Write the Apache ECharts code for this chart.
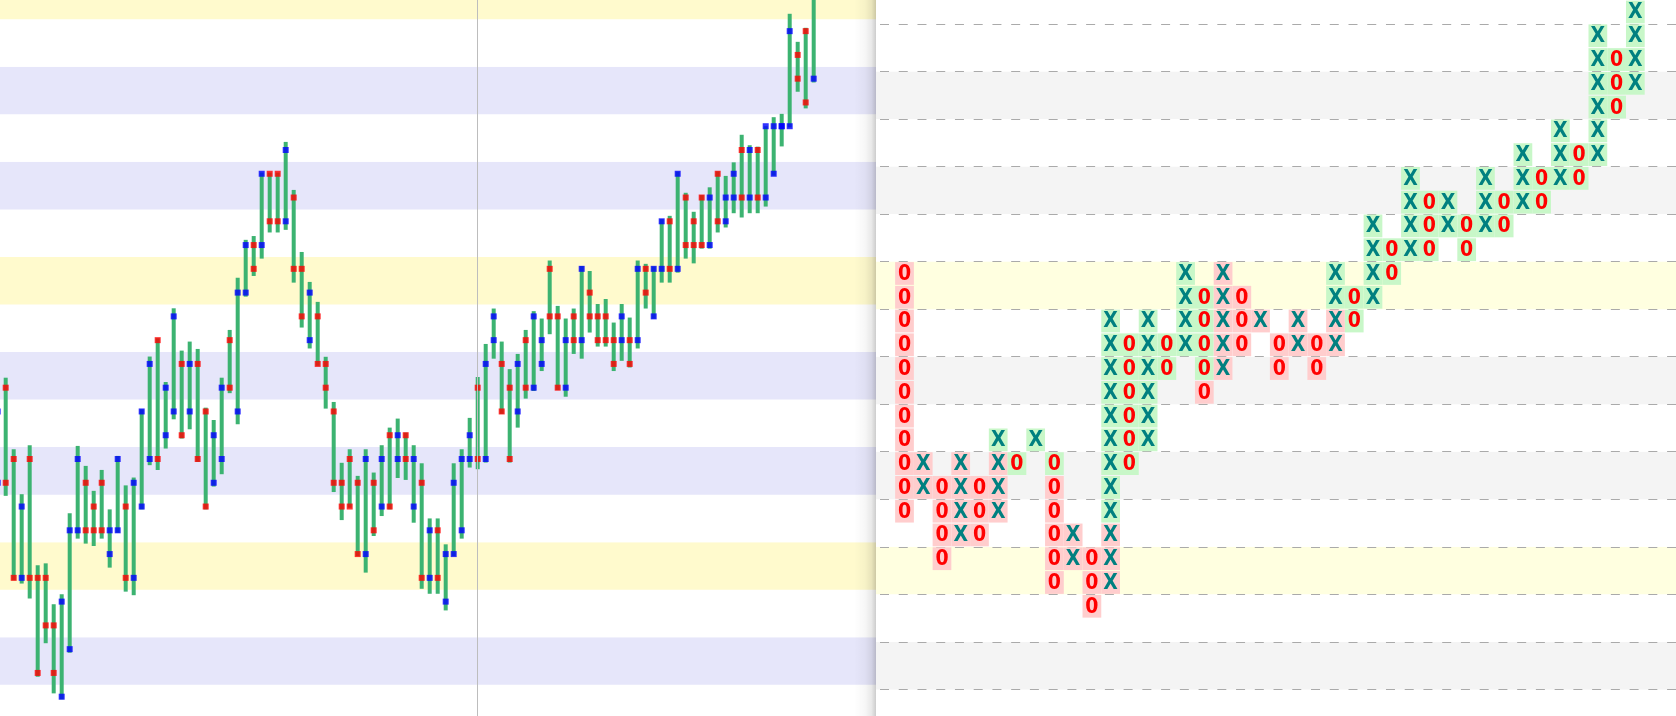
<!DOCTYPE html>
<html>
<head>
<meta charset="utf-8">
<script src="https://cdn.jsdelivr.net/npm/echarts@6/dist/echarts.min.js"></script>
<style>
html,body{margin:0;padding:0;background:#fff;}
#chart{width:1676px;height:716px;}
</style>
</head>
<body>
<div id="chart"></div>
<script>
// ---------- Left panel: price bars (values in box units) ----------
const highs = [
  13.3, 14.42, 11.41, 9.52, 11.58, 6.53, 6.61, 4.89, 5.31, 8.72,
  11.55, 10.71, 9.66, 10.54, 8.88, 11.13, 9.89, 10.22, 13.09, 15.31,
  16.08, 14.24, 17.34, 15.56, 15.94, 15.63, 13.16, 12.64, 14.42, 16.43,
  18.62, 20.22, 20.38, 23.05, 23.05, 23.05, 24.34, 22.32, 19.71, 18.45,
  17.61, 15.3, 13.4, 10.84, 11.41, 10.29, 11.41, 10.43, 11.58, 12.32,
  12.7, 12.11, 11.58, 10.82, 8.5, 8.5, 7.41, 10.82, 11.41, 12.73,
  14.45, 15.84, 17.33, 15.94, 14.78, 15.42, 16.43, 17.22, 16.91, 19.35,
  17.44, 16.91, 17.33, 19.12, 18.91, 17.52, 17.73, 16.74, 17.52, 16.95,
  19.35, 19.21, 19.1, 21.09, 21.23, 23.09, 22.2, 21.4, 22.1, 22.43,
  23.1, 22.91, 23.48, 24.64, 24.2, 24.14, 25.0, 25.38, 25.52, 29.73,
  28.55, 29.14, 31.5
];
const lows = [
  9.7, 9.45, 5.9, 5.76, 5.13, 1.84, 3.25, 1.14, 0.89, 2.85,
  7.65, 7.44, 7.34, 7.65, 6.43, 7.9, 5.42, 5.27, 8.88, 10.74,
  10.54, 11.44, 12.67, 11.86, 12.25, 10.88, 8.88, 9.84, 10.36, 13.77,
  12.46, 17.83, 18.7, 19.43, 20.53, 20.53, 20.64, 18.42, 16.53, 15.65,
  14.92, 13.12, 9.61, 8.43, 8.95, 6.92, 6.22, 7.76, 8.6, 8.88,
  10.2, 10.12, 8.32, 5.54, 5.33, 5.33, 4.63, 6.92, 7.65, 10.64,
  10.57, 10.85, 15.22, 12.9, 10.85, 12.32, 13.54, 13.86, 14.7, 16.25,
  13.9, 13.62, 15.42, 15.22, 16.32, 15.73, 15.73, 14.7, 15.13, 14.85,
  15.65, 17.33, 16.9, 18.42, 18.42, 18.84, 19.43, 19.23, 19.85, 19.85,
  20.53, 20.74, 21.34, 21.16, 21.34, 21.34, 21.62, 22.92, 24.15, 24.95,
  26.45, 25.75, 26.84
];
const boxTop = [
  13, 14, 11, 9, 11, 6, 6, 4, 5, 8,
  11, 10, 9, 10, 8, 11, 9, 10, 13, 15,
  16, 14, 17, 15, 15, 15, 13, 12, 14, 16,
  18, 20, 20, 23, 23, 23, 24, 22, 19, 18,
  17, 15, 13, 10, 11, 10, 11, 10, 11, 12,
  12, 12, 11, 10, 8, 8, 7, 10, 11, 12,
  14, 15, 17, 15, 14, 15, 16, 17, 16, 19,
  17, 16, 17, 19, 18, 17, 17, 16, 17, 16,
  19, 19, 19, 21, 21, 23, 22, 21, 22, 22,
  23, 22, 23, 24, 24, 24, 25, 25, 25, 29,
  28, 29, 31
];
const boxBottom = [
  10, 10, 6, 6, 6, 2, 4, 2, 1, 3,
  8, 8, 8, 8, 7, 8, 6, 6, 9, 11,
  11, 12, 13, 12, 13, 11, 9, 10, 11, 14,
  13, 18, 19, 20, 21, 21, 21, 19, 17, 16,
  15, 14, 10, 9, 9, 7, 7, 8, 9, 9,
  11, 11, 9, 6, 6, 6, 5, 7, 8, 11,
  11, 11, 16, 13, 11, 13, 14, 14, 15, 17,
  14, 14, 16, 16, 17, 16, 16, 15, 16, 15,
  16, 18, 17, 19, 19, 19, 20, 20, 20, 20,
  21, 21, 22, 22, 22, 22, 22, 23, 25, 25,
  27, 26, 27
];
// 'b' = rising box marker, 'r' = falling box marker
const boxTrend = [
  'b','r','r','b','r','r','r','r','b','b',
  'b','r','r','r','b','b','r','b','b','b',
  'r','b','b','r','b','r','r','b','b','r',
  'b','b','r','b','r','r','b','r','r','b',
  'r','r','r','r','r','r','b','r','b','r',
  'b','r','b','r','b','r','b','b','b','b',
  'r','b','b','r','r','b','r','b','b','r',
  'r','b','r','b','r','r','r','r','b','r',
  'b','r','b','b','r','b','r','r','r','b',
  'r','b','b','r','b','r','b','b','b','b',
  'r','r','b'
];
const cursorBar = 60;

// ---------- Right panel: point & figure columns ----------
const pfType = ['O','X','O','X','O','X','O','X','O','X',
                'O','X','O','X','O','X','O','X','O','X',
                'O','X','O','X','O','X','O','X','O','X',
                'O','X','O','X','O','X','O','X','O','X'];
const pfLow  = [9,10,7,8,8,9,11,12,6,7, 5,6,11,12,15,16,14,15,16,17,
                15,16,15,16,17,18,19,20,20,21, 20,21,21,22,22,23,23,24,26,27];
const pfHigh = [19,11,10,11,10,12,11,12,11,8, 7,17,16,17,16,19,18,19,18,17,
                16,17,16,19,18,21,20,23,22,22, 21,23,22,24,23,25,24,29,28,30];
// per cell from low to high: p = pink, g = green
const pfShade = ['ppppppppppp','pp','pppp','pppp','ppp','pppg','g','g','pppppg','pp',
                 'ppp','pppggggggggg','gggggg','gggggg','gg','gggg','pgggg','ppppp','ppp','p',
                 'pp','pp','pp','ppgg','gg','gggg','gg','gggg','ggg','gg',
                 'gg','ggg','gg','ggg','gg','ggg','gg','gggggg','ggg','gggg'];

// ---------- build series data ----------
const barData = highs.map((h, i) => [i, h, lows[i]]);
const markerData = [];
boxTop.forEach((t, i) => {
  const col = boxTrend[i] === 'b' ? '#0000ff' : '#ff0000';
  markerData.push({value: [i, t], itemStyle: {color: col}});
  markerData.push({value: [i, boxBottom[i]], itemStyle: {color: col}});
});
const cellData = [];
pfType.forEach((t, c) => {
  for (let v = pfLow[c]; v <= pfHigh[c]; v++) {
    cellData.push([c, v, t === 'X' ? 1 : 0, pfShade[c][v - pfLow[c]] === 'g' ? 1 : 0]);
  }
});

function bands(accent, shade, top) {
  const cyc = [accent, '#ffffff', shade, '#ffffff', shade, '#ffffff'];
  const out = [];
  for (let b = -0.5, n = -3; b < top; b += 2, n++) {
    const col = cyc[((n % 6) + 6) % 6];
    out.push([{yAxis: b, itemStyle: {color: col, opacity: 1, borderWidth: 0}}, {yAxis: b + 2}]);
  }
  return out;
}
const dashLines = [];
for (let v = 1.5; v <= 29.5; v += 2) dashLines.push({yAxis: v});

const chart = echarts.init(document.getElementById('chart'));
chart.setOption({
  animation: false,
  backgroundColor: '#ffffff',
  grid: [
    {left: -10, top: 0, width: 886, height: 716, outerBoundsMode: 'none'},
    {left: 876, top: 0, width: 800, height: 716, outerBoundsMode: 'none'}
  ],
  xAxis: [
    {type: 'value', gridIndex: 0, min: -0.9625, max: 109.7875, show: false},
    {type: 'value', gridIndex: 1, min: -1.521, max: 41.17, show: false}
  ],
  yAxis: [
    {type: 'value', gridIndex: 0, min: 0.188, max: 30.31, show: false},
    {type: 'value', gridIndex: 1, min: 0.383, max: 30.505, show: false}
  ],
  graphic: [{
    type: 'rect', z: 100, silent: true,
    shape: {x: 854, y: 0, width: 22, height: 716},
    style: {fill: {type: 'linear', x: 0, y: 0, x2: 1, y2: 0, colorStops: [
      {offset: 0, color: 'rgba(0,0,0,0)'},
      {offset: 0.5, color: 'rgba(0,0,0,0.03)'},
      {offset: 0.8, color: 'rgba(0,0,0,0.09)'},
      {offset: 1, color: 'rgba(0,0,0,0.2)'}
    ]}}
  }],
  series: [
    {
      type: 'custom', xAxisIndex: 0, yAxisIndex: 0, z: 2,
      data: barData,
      encode: {x: 0, y: [1, 2]},
      renderItem: function (params, api) {
        const x = api.value(0);
        const p1 = api.coord([x, api.value(1)]);
        const p2 = api.coord([x, api.value(2)]);
        return {type: 'rect', shape: {x: p1[0] - 2, y: p1[1], width: 4, height: p2[1] - p1[1]},
                style: {fill: '#3cb371'}};
      },
      markArea: {silent: true, data: bands('#fffacd', '#e6e6fa', 31.5)}
    },
    {
      type: 'scatter', xAxisIndex: 0, yAxisIndex: 0, z: 3,
      symbol: 'rect', symbolSize: 6,
      data: markerData,
      markLine: {silent: true, symbol: ['none', 'none'], label: {show: false},
        lineStyle: {color: '#bdbdbd', width: 1, type: 'solid'},
        data: [{xAxis: cursorBar}]}
    },
    {
      type: 'custom', xAxisIndex: 1, yAxisIndex: 1, z: 10,
      data: cellData,
      encode: {x: 0, y: 1},
      renderItem: function (params, api) {
        const c = api.value(0), v = api.value(1);
        const isX = api.value(2) === 1, green = api.value(3) === 1;
        const pt = api.coord([c, v]);
        const sz = api.size([1, 1]);
        return {type: 'group', children: [
          {type: 'rect', shape: {x: pt[0] - sz[0] / 2, y: pt[1] - sz[1] / 2 + 0.5, width: sz[0], height: sz[1] - 1},
           style: {fill: green ? '#c8f7c8' : '#ffcdcd'}},
          {type: 'text', x: pt[0], y: pt[1] + 1,
           style: {text: isX ? 'X' : '0', fill: isX ? '#008080' : '#ff0000',
             font: 'bold 21px "Liberation Sans Narrow", "DejaVu Sans Condensed", sans-serif',
             align: 'center', verticalAlign: 'middle'}}
        ]};
      },
      markArea: {silent: true, data: bands('#ffffe0', '#f4f4f4', 29.5)},
      markLine: {silent: true, symbol: ['none', 'none'], label: {show: false},
        lineStyle: {color: '#aaaaaa', width: 1, type: [9, 9.74], dashOffset: 14.74},
        data: dashLines}
    }
  ]
});
</script>
</body>
</html>
